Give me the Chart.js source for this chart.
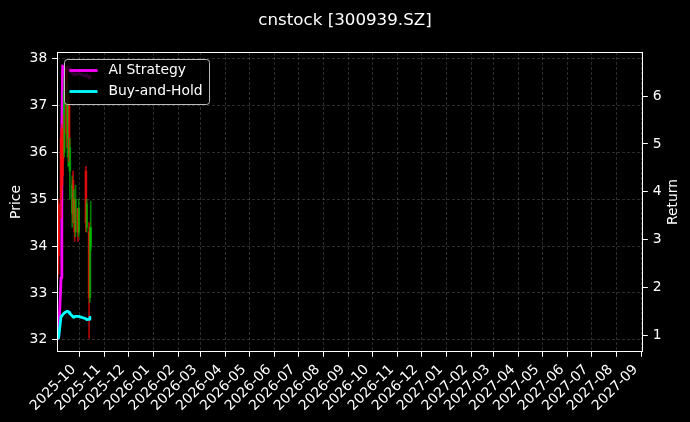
<!DOCTYPE html>
<html>
<head>
<meta charset="utf-8">
<script src="https://cdn.jsdelivr.net/npm/chart.js@4.4.1/dist/chart.umd.min.js"></script>
<style>
  html, body { margin: 0; padding: 0; background: #000; }
  #wrap { width: 690px; height: 422px; }
</style>
</head>
<body>
<div id="wrap"><canvas id="grafico" width="690" height="422"></canvas></div>
<script>
// Dados
const dates = [
  '2025-09-03', '2025-09-04', '2025-09-05', '2025-09-08', '2025-09-09',
  '2025-09-10', '2025-09-11', '2025-09-12', '2025-09-15', '2025-09-16',
  '2025-09-17', '2025-09-18', '2025-09-19', '2025-09-22', '2025-09-23',
  '2025-09-24', '2025-09-25', '2025-09-26', '2025-09-29', '2025-09-30',
  '2025-10-09', '2025-10-10', '2025-10-13', '2025-10-14', '2025-10-15'
];
const openP  = [34.3, 34.2, 34.9, 36.3, 36.4, 36.2, 36.5, 36.0, 37.8, 36.3, 36.6, 37.0, 35.6, 34.7, 35.4, 34.7, 35.0, 34.3, 34.8, 34.3, 35.6, 34.4, 34.3, 32.9, 34.0];
const highP  = [34.4, 34.5, 35.0, 36.5, 36.6, 36.5, 36.8, 37.6, 37.85, 37.5, 37.3, 37.2, 36.3, 35.5, 35.6, 35.2, 35.0, 35.3, 34.8, 35.0, 35.7, 35.0, 34.5, 34.4, 34.95];
const lowP   = [33.3, 33.3, 33.4, 34.6, 35.2, 35.3, 35.8, 35.9, 36.1, 35.9, 35.7, 35.8, 35.0, 34.4, 34.5, 34.5, 34.1, 34.2, 34.1, 34.2, 34.3, 34.3, 32.03, 32.8, 33.9];
const closeP = [33.5, 33.6, 33.8, 35.0, 35.6, 35.5, 36.0, 37.3, 36.4, 37.2, 37.0, 36.0, 36.1, 35.3, 34.7, 35.0, 34.3, 35.0, 34.3, 34.8, 34.5, 34.9, 32.9, 34.3, 34.4];

const aiReturn = [0.94, 0.95, 0.96, 2.2, 5.2, 6.63, 6.60, 6.58, 6.55, 6.57, 6.60, 6.56, 6.52, 6.48, 6.45, 6.47, 6.44, 6.46, 6.45, 6.47, 6.42, 6.44, 6.38, 6.41, 6.40];
const bhReturn = [0.94, 0.94, 0.95, 1.40, 1.41, 1.43, 1.45, 1.47, 1.50, 1.51, 1.50, 1.48, 1.46, 1.41, 1.39, 1.38, 1.39, 1.40, 1.40, 1.40, 1.35, 1.33, 1.34, 1.38, 1.37];

const monthLabels = [
  '2025-10', '2025-11', '2025-12', '2026-01', '2026-02', '2026-03', '2026-04', '2026-05',
  '2026-06', '2026-07', '2026-08', '2026-09', '2026-10', '2026-11', '2026-12', '2027-01',
  '2027-02', '2027-03', '2027-04', '2027-05', '2027-06', '2027-07', '2027-08', '2027-09'
];
const priceTicks = [32, 33, 34, 35, 36, 37, 38];
const returnTicks = [1, 2, 3, 4, 5, 6];

const xStart = '2025-09-03';
const xEnd = '2027-09-03';

const FONT = 'DejaVu Sans';
const UP = 'rgba(0,190,0,0.65)';
const DOWN = 'rgba(255,10,10,0.7)';
const GRID = 'rgba(255,255,255,0.22)';

const toDay = s => Date.parse(s) / 864e5;
const xs = dates.map(toDay);
const candleColor = closeP.map((c, i) => (c >= openP[i] ? UP : DOWN));

Chart.defaults.font.family = FONT;
Chart.defaults.font.size = 13.9;
Chart.defaults.color = '#ffffff';

// Fundo, moldura e legenda
const decor = {
  id: 'decor',
  beforeDraw(chart) {
    const c = chart.ctx;
    c.save();
    c.fillStyle = '#000';
    c.fillRect(0, 0, chart.width, chart.height);
    c.restore();
  },
  afterDatasetsDraw(chart) {
    const c = chart.ctx;
    const a = chart.chartArea;
    c.save();
    c.strokeStyle = '#ffffff';
    c.lineWidth = 1;
    const l = Math.round(a.left) + 0.5, t = Math.round(a.top) + 0.5;
    const rr = Math.round(a.right) - 0.5, b = Math.round(a.bottom) - 0.5;
    c.strokeRect(l, t, rr - l, b - t);

    // legenda
    const bx = a.left + 7.5, by = a.top + 7.5, bw = 145, bh = 45, r = 3;
    c.beginPath();
    c.moveTo(bx + r, by);
    c.lineTo(bx + bw - r, by);
    c.arcTo(bx + bw, by, bx + bw, by + r, r);
    c.lineTo(bx + bw, by + bh - r);
    c.arcTo(bx + bw, by + bh, bx + bw - r, by + bh, r);
    c.lineTo(bx + r, by + bh);
    c.arcTo(bx, by + bh, bx, by + bh - r, r);
    c.lineTo(bx, by + r);
    c.arcTo(bx, by, bx + r, by, r);
    c.closePath();
    c.fillStyle = 'rgba(0,0,0,0.8)';
    c.fill();
    c.strokeStyle = 'rgba(220,220,220,0.85)';
    c.lineWidth = 1;
    c.stroke();

    const items = [['AI Strategy', '#ff00ff'], ['Buy-and-Hold', '#00ffff']];
    items.forEach(([txt, col], i) => {
      const yy = by + 11 + i * 21;
      c.strokeStyle = col;
      c.lineWidth = 2.8;
      c.beginPath();
      c.moveTo(bx + 5, yy);
      c.lineTo(bx + 33, yy);
      c.stroke();
      c.fillStyle = '#ffffff';
      c.font = `13.9px "${FONT}"`;
      c.textAlign = 'left';
      c.textBaseline = 'middle';
      c.fillText(txt, bx + 44, yy);
    });
    c.restore();
  },
  afterDraw(chart) {
    const c = chart.ctx;
    const a = chart.chartArea;
    const midY = (a.top + a.bottom) / 2;
    c.save();
    c.fillStyle = '#ffffff';
    c.textAlign = 'center';
    c.font = `16.7px "${FONT}"`;
    c.textBaseline = 'alphabetic';
    c.fillText('cnstock [300939.SZ]', 345, 24.5);

    c.font = `13.9px "${FONT}"`;
    c.textBaseline = 'middle';
    [['Price', 16.5], ['Return', 673]].forEach(([txt, x]) => {
      c.save();
      c.translate(x, midY);
      c.rotate(-Math.PI / 2);
      c.fillText(txt, 0, 0);
      c.restore();
    });
    c.restore();
  }
};

const ctx = document.getElementById('grafico').getContext('2d');

new Chart(ctx, {
  type: 'bar',
  data: {
    datasets: [
      {
        type: 'line',
        label: 'AI Strategy',
        data: xs.map((x, i) => ({ x, y: aiReturn[i] })),
        borderColor: '#ff00ff',
        borderWidth: 2.8,
        pointRadius: 0,
        borderJoinStyle: 'round',
        yAxisID: 'y2',
        order: 2
      },
      {
        label: 'wick',
        data: xs.map((x, i) => ({ x, y: [lowP[i], highP[i]] })),
        backgroundColor: candleColor,
        barThickness: 1,
        yAxisID: 'y',
        order: 1
      },
      {
        label: 'body',
        data: xs.map((x, i) => ({ x, y: [openP[i], closeP[i]] })),
        backgroundColor: candleColor,
        barThickness: 2,
        yAxisID: 'y',
        order: 1
      },
      {
        type: 'line',
        label: 'Buy-and-Hold',
        data: xs.map((x, i) => ({ x, y: bhReturn[i] })),
        borderColor: '#00ffff',
        borderWidth: 2.8,
        pointRadius: 0,
        borderJoinStyle: 'round',
        yAxisID: 'y2',
        order: 0
      }
    ]
  },
  options: {
    responsive: false,
    animation: false,
    layout: { padding: { top: 52, left: 0, right: 0, bottom: 0 } },
    plugins: {
      legend: { display: false },
      tooltip: { enabled: false }
    },
    scales: {
      x: {
        type: 'linear',
        min: toDay(xStart),
        max: toDay(xEnd),
        offset: false,
        stacked: true,
        afterBuildTicks: s => { s.ticks = monthLabels.map(m => ({ value: toDay(m + '-01') })); },
        afterFit: s => { s.height = 70; },
        ticks: {
          autoSkip: false,
          minRotation: 45,
          maxRotation: 45,
          labelOffset: -5.7,
          padding: 4.6,
          color: '#ffffff',
          callback: (v, i) => monthLabels[i]
        },
        grid: {
          offset: false,
          color: GRID,
          lineWidth: 0.8,
          tickLength: 4.86,
          tickColor: '#ffffff',
          tickWidth: 1,
          tickBorderDash: []
        },
        border: { display: false, dash: [3, 2] }
      },
      y: {
        position: 'left',
        min: 31.74,
        max: 38.14,
        stacked: false,
        afterBuildTicks: s => { s.ticks = priceTicks.map(v => ({ value: v })); },
        afterFit: s => { s.width = 57; },
        ticks: { padding: 4.86, color: '#ffffff', callback: v => String(v) },
        grid: {
          color: GRID,
          lineWidth: 0.8,
          tickLength: 4.86,
          tickColor: '#ffffff',
          tickWidth: 1,
          tickBorderDash: []
        },
        border: { display: false, dash: [3, 2] }
      },
      y2: {
        position: 'right',
        min: 0.656,
        max: 6.919,
        afterBuildTicks: s => { s.ticks = returnTicks.map(v => ({ value: v })); },
        afterFit: s => { s.width = 47; },
        ticks: { padding: 4.86, color: '#ffffff', callback: v => String(v) },
        grid: {
          drawOnChartArea: false,
          tickLength: 4.86,
          tickColor: '#ffffff',
          tickWidth: 1
        },
        border: { display: false }
      }
    }
  },
  plugins: [decor]
});
</script>
</body>
</html>
